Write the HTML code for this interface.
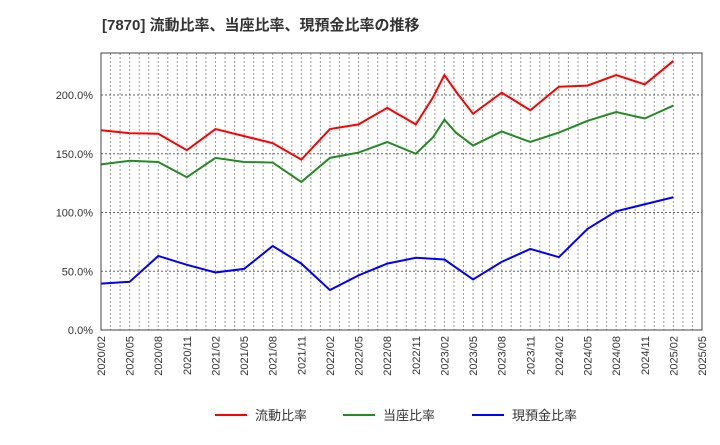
<!DOCTYPE html>
<html><head><meta charset="utf-8"><style>
body{margin:0;background:#fff;font-family:"Liberation Sans","Noto Sans CJK JP",sans-serif;}
svg text{font-family:"Liberation Sans","Noto Sans CJK JP",sans-serif;}
</style></head><body>
<svg id="c" width="720" height="440">
<text x="102" y="30" font-size="15" font-weight="bold" fill="#333">[7870]  流動比率、当座比率、現預金比率の推移</text>
<g id="grid"></g><g id="series"></g><g id="axes"></g><g id="legend"></g>
</svg>
<script>
const xLabels=["2020/02","2020/05","2020/08","2020/11","2021/02","2021/05","2021/08","2021/11","2022/02","2022/05","2022/08","2022/11","2023/02","2023/05","2023/08","2023/11","2024/02","2024/05","2024/08","2024/11","2025/02","2025/05"];
const yTicks=[0,50,100,150,200];
const redMonths=[0,3,6,9,12,15,18,21,24,27,30,33,34.8,36,37.2,39,42,45,48,51,54,57,60];
const redVals=[170,167.5,167,153,171,165,159,145,171,175,189,175,198,217,203,184,202,187,207,208,217,209,229];
const greenMonths=[0,3,6,9,12,15,18,21,24,27,30,33,34.8,36,37.2,39,42,45,48,51,54,57,60];
const greenVals=[141,144,143,130,146.5,143,142.5,126,146.5,151,160,150,164,179,168,157,169,160,168,178,185.5,180,191];
const blueMonths=[0,3,6,9,12,15,18,21,24,27,30,33,36,39,42,45,48,51,54,57,60];
const blueVals=[39.5,41,63,55.5,49,52,71.5,56.5,34,46.5,56.5,61.5,60,43,58,69,62,86,101,107,113];
const L=101,R=702,T=53,B=330;
const xs=m=>L+m*(R-L)/63;
const ys=v=>B-v*(B-95)/200;
const NS="http://www.w3.org/2000/svg";
function mk(t,a,p){const e=document.createElementNS(NS,t);for(const k in a)e.setAttribute(k,a[k]);p.appendChild(e);return e;}
const grid=document.getElementById('grid'),axes=document.getElementById('axes'),ser=document.getElementById('series'),leg=document.getElementById('legend');
for(let m=1;m<63;m++){const l=mk('line',{x1:xs(m),x2:xs(m),y1:T,y2:B,stroke:'#999','stroke-width':1,'stroke-dasharray':'2,2'},grid);

}
yTicks.forEach(v=>{if(v>0){const l=mk('line',{x1:L,x2:R,y1:ys(v),y2:ys(v),stroke:'#666','stroke-width':1,'stroke-dasharray':'2,2'},grid);

}
const t=mk('text',{x:L-8,y:ys(v)+4,'text-anchor':'end','font-size':11,fill:'#333'},axes);t.textContent=v.toFixed(1)+'%';

});
const fr=mk('rect',{x:L,y:T,width:R-L,height:B-T,fill:'none',stroke:'#444','stroke-width':1},axes);


xLabels.forEach((s,i)=>{const x=xs(i*3);const t=mk('text',{x:x+4,y:B+6,'text-anchor':'end','font-size':11,fill:'#333',transform:`rotate(-90 ${x+4} ${B+6})`},axes);t.textContent=s;

});
function line(ms,vs,c,n){const p=mk('polyline',{points:ms.map((m,i)=>xs(m)+','+ys(vs[i])).join(' '),fill:'none',stroke:c,'stroke-width':2},ser);

}
line(redMonths,redVals,'#f00','current-ratio-line');
line(greenMonths,greenVals,'#228b22','quick-ratio-line');
line(blueMonths,blueVals,'#00f','cash-ratio-line');
[['流動比率','#f00',215,'legend-current-ratio'],['当座比率','#228b22',343,'legend-quick-ratio'],['現預金比率','#00f',472,'legend-cash-ratio']].forEach(([s,c,x,n])=>{
const g=mk('g',{},leg);


mk('line',{x1:x,x2:x+32,y1:415,y2:415,stroke:c,'stroke-width':2},g);
const t=mk('text',{x:x+40,y:420,'font-size':13,fill:'#333'},g);t.textContent=s;});
</script>
</body></html>
